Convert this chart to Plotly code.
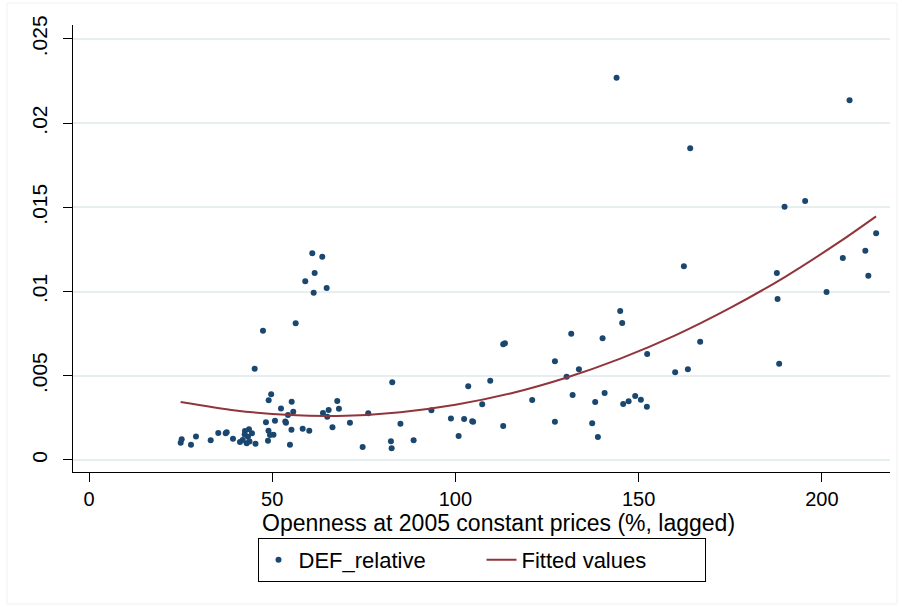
import plotly.graph_objects as go

# Scatter data: Openness (x) vs DEF_relative (y)
openness = [
    25.02, 25.29, 27.83, 29.19, 33.21, 35.28, 37.30, 37.57, 39.29, 41.20,
    41.94, 42.56, 43.66, 44.47, 42.48, 43.38, 43.79, 43.03, 45.43, 45.21,
    47.48, 49.71, 49.03, 48.29, 48.98, 49.39, 50.34, 48.84, 50.75, 52.39,
    55.31, 55.74, 54.30, 53.56, 53.75, 55.25, 54.84, 58.31, 60.11, 63.85,
    65.40, 65.02, 67.75, 68.21, 66.44, 71.21, 60.93, 63.66, 61.58, 59.02,
    61.31, 64.86, 56.40, 76.21, 74.68, 82.76, 82.40, 82.59, 84.99, 88.59,
    93.45, 98.77, 100.87, 102.37, 103.49, 104.58, 104.83, 107.31, 109.50, 113.04,
    113.04, 113.51, 120.95, 127.15, 127.15, 130.34, 131.98, 133.70, 137.33, 138.14,
    138.88, 140.16, 140.71, 145.78, 147.26, 149.06, 150.61, 152.25, 152.33, 144.97,
    145.51, 143.98, 131.60, 162.35, 164.07, 159.97, 163.44, 166.79, 187.72, 187.91,
    188.35, 189.82, 195.44, 201.28, 205.73, 211.87, 212.69, 214.82, 207.56,
]
def_relative = [
    0.001027, 0.001229, 0.000909, 0.001395, 0.001170, 0.001603, 0.001585, 0.001645, 0.001265, 0.001069,
    0.001188, 0.001722, 0.001823, 0.001585, 0.001514, 0.001384, 0.001099, 0.000992, 0.000962, 0.005421,
    0.007678, 0.003901, 0.003551, 0.002239, 0.001740, 0.001485, 0.001502, 0.001146, 0.002334, 0.003058,
    0.003462, 0.002868, 0.002672, 0.002286, 0.002215, 0.001799, 0.000909, 0.001859, 0.001740, 0.002791,
    0.002969, 0.002571, 0.003503, 0.003046, 0.001942, 0.002215, 0.012274, 0.012072, 0.011104, 0.010611,
    0.009934, 0.010213, 0.008117, 0.002773, 0.000772, 0.004614, 0.001110, 0.000695, 0.002155, 0.001170,
    0.002951, 0.002464, 0.001425, 0.002435, 0.004376, 0.002298, 0.002268, 0.003307, 0.004709, 0.002019,
    0.006870, 0.006930, 0.003563, 0.005861, 0.002274, 0.004946, 0.003860, 0.005386, 0.002179, 0.003444,
    0.001366, 0.007227, 0.003978, 0.003325, 0.003486, 0.003800, 0.003581, 0.003165, 0.006294, 0.008848,
    0.008135, 0.022701, 0.007500, 0.011502, 0.018509, 0.005208, 0.005386, 0.007025, 0.011104, 0.009560,
    0.005718, 0.015041, 0.015379, 0.009976, 0.011995, 0.012428, 0.010944, 0.013461, 0.021359,
]

# Fitted values (quadratic fit line)
fit_x = [25.0, 40, 55, 70, 85, 100, 115, 130, 145, 160, 175, 190, 205, 214.8]
fit_y = [0.00344, 0.00294, 0.00267, 0.00263, 0.00284, 0.00328, 0.00395, 0.00487,
         0.00602, 0.00740, 0.00903, 0.01088, 0.01298, 0.01447]

y_tickvals = [0, 0.005, 0.01, 0.015, 0.02, 0.025]
y_ticktext = ["0", ".005", ".01", ".015", ".02", ".025"]
x_tickvals = [0, 50, 100, 150, 200]
x_title = "Openness at 2005 constant prices (%, lagged)"

NAVY = "#1A476F"
MAROON = "#90353B"
FONT = "Liberation Sans, Arial, sans-serif"

fig = go.Figure()
fig.add_trace(go.Scatter(
    x=openness, y=def_relative, mode="markers", name="DEF_relative",
    marker=dict(color=NAVY, size=6, line=dict(width=0)),
))
fig.add_trace(go.Scatter(
    x=fit_x, y=fit_y, mode="lines", name="Fitted values",
    line=dict(color=MAROON, width=2, shape="spline", smoothing=0.8),
))

W, H = 904, 607
L, R, T, B = 73, 14, 25, 135
pw, ph = W - L - R, H - T - B

def px_x(p):
    return (p - L) / pw

def px_y(p):
    return (H - B - p) / ph

fig.update_layout(
    width=W, height=H,
    margin=dict(l=L, r=R, t=T, b=B, pad=0),
    paper_bgcolor="white", plot_bgcolor="white",
    font=dict(family=FONT, size=20, color="black"),
    showlegend=True,
    legend=dict(
        orientation="h", x=0.5, xanchor="center", y=px_y(538), yanchor="top",
        bordercolor="black", borderwidth=1, bgcolor="white",
        font=dict(family=FONT, size=22, color="black"),
        entrywidth=178, entrywidthmode="pixels",
    ),
    xaxis=dict(
        range=[-4.37, 218.6], tickvals=x_tickvals,
        showgrid=False, zeroline=False,
        showline=True, linecolor="black", linewidth=1,
        ticks="outside", ticklen=9, tickcolor="black", tickwidth=1,
        tickfont=dict(size=20),
    ),
    yaxis=dict(
        range=[-0.000713, 0.02583], tickvals=y_tickvals, ticktext=y_ticktext,
        showgrid=True, gridcolor="#E6EEF0", gridwidth=1.5, zeroline=False,
        showline=True, linecolor="black", linewidth=1,
        ticks="outside", ticklen=9, tickcolor="black", tickwidth=1,
        tickangle=-90, tickfont=dict(size=21), ticklabelstandoff=8,
    ),
    annotations=[dict(
        text=x_title, xref="paper", yref="paper",
        x=px_x(498), y=px_y(523), xanchor="center", yanchor="middle",
        showarrow=False, font=dict(family=FONT, size=23, color="black"),
    )],
    shapes=[dict(
        type="rect", xref="paper", yref="paper",
        x0=px_x(7), x1=px_x(897), y0=px_y(604), y1=px_y(3),
        line=dict(color="#EDF2F4", width=1), fillcolor="rgba(0,0,0,0)", layer="below",
    )],
)

fig.write_html("out.html")
